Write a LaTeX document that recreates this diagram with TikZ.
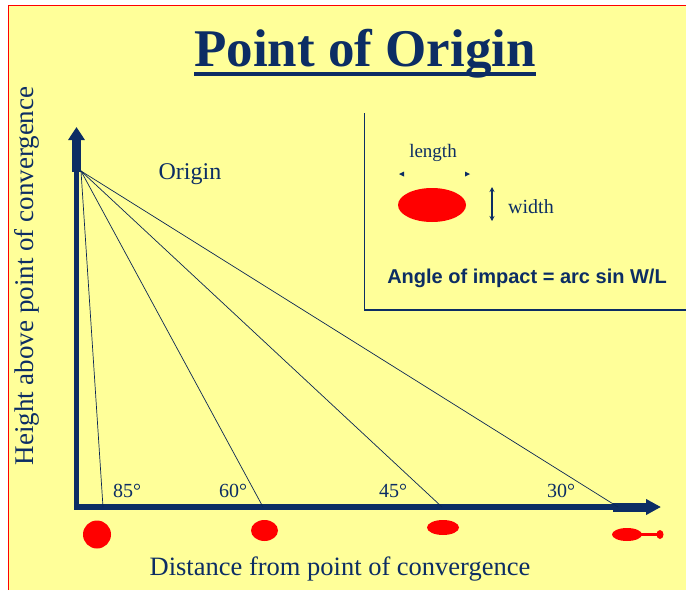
\documentclass[tikz,border=0pt]{standalone}
\usepackage{fontspec}
\setmainfont{Liberation Serif}
\newfontfamily\sansb{Liberation Sans}
\usetikzlibrary{arrows.meta,calc}
\definecolor{bg}{RGB}{255,255,153}
\definecolor{navy}{RGB}{12,45,100}
\definecolor{dropred}{RGB}{255,0,0}
\begin{document}
\begin{tikzpicture}[x=1pt,y=-1pt,
 lbl/.style={text=navy, inner sep=0pt, anchor=base},
 ray/.style={draw=navy!85!black, line width=0.7pt},
 axisline/.style={draw=navy, line width=5.5pt, line join=miter},
 drop/.style={fill=dropred, draw=none}]
\useasboundingbox (0,0) rectangle (686,590);
\fill[white] (0,0) rectangle (686,590);
\fill[bg] (8.5,5.5) rectangle (686,590);
\draw[red, line width=1.2pt] (8.5,590) -- (8.5,5.5) -- (686,5.5);
% title
\node[lbl, font=\fontsize{53}{53}\selectfont\bfseries] (title) at (365,66) {Point of Origin};
\draw[navy, line width=4pt] ($(title.base west)+(0,7.5)$) -- ($(title.base east)+(0,7.5)$);
% axes
\coordinate (ytip) at (76.5,127);
\coordinate (corner) at (76.5,507);
\coordinate (xtip) at (661,507);
\draw[axisline, {Triangle[width=16pt,length=13pt]}-{Triangle[width=15pt,length=15pt]}] (ytip) -- (corner) -- (xtip);
\fill[navy] (72,172) rectangle (81,136);
\fill[navy] (613,503) rectangle (648,511.5);
% rays
\coordinate (O) at (81,171);
\coordinate (a85) at (103,507);
\coordinate (a60) at (263,507);
\coordinate (a45) at (442,507);
\coordinate (a30) at (618,507);
\foreach \p in {a85,a60,a45,a30} \draw[ray] (O) -- (\p);
% angle labels
\node[lbl, font=\fontsize{20}{20}\selectfont] (l85) at (127,497) {85°};
\node[lbl, font=\fontsize{20}{20}\selectfont] (l60) at (233,497) {60°};
\node[lbl, font=\fontsize{20}{20}\selectfont] (l45) at (393,497) {45°};
\node[lbl, font=\fontsize{20}{20}\selectfont] (l30) at (561,497) {30°};
% drops
\fill[drop] (97,534.5) circle [radius=14];
\fill[drop] (264.5,530.5) ellipse [x radius=13.5, y radius=10.5];
\fill[drop] (443,527.5) ellipse [x radius=16, y radius=7.5];
\fill[drop] (627,534.5) ellipse [x radius=15, y radius=6.5];
\fill[drop] (640,533) rectangle (660,536);
\fill[drop] (660,534.5) ellipse [x radius=3.5, y radius=4.5];
% axis labels
\node[lbl, font=\fontsize{26.5}{26.5}\selectfont] (xlab) at (340,575) {Distance from point of convergence};
\node[lbl, rotate=90, font=\fontsize{27}{27}\selectfont] (ylab) at (34,276) {Height above point of convergence};
\node[lbl, font=\fontsize{24}{24}\selectfont] (orig) at (190,179) {Origin};
% info box
\draw[navy, line width=1.3pt] (364.5,113) -- (364.5,310) -- (686,310);
\node[lbl, font=\fontsize{19}{19}\selectfont] (len) at (433,157) {length};
\fill[navy] (399,174) -- (404,171.5) -- (404,176.5) -- cycle;
\fill[navy] (470,174) -- (465,171.5) -- (465,176.5) -- cycle;
\fill[drop] (432,205) ellipse [x radius=34, y radius=17];
\coordinate (wtop) at (492,187);
\coordinate (wbot) at (492,221);
\draw[navy, line width=1.2pt, {Stealth[length=5pt,width=5pt]}-{Stealth[length=5pt,width=5pt]}] (wtop) -- (wbot);
\node[lbl, font=\fontsize{20}{20}\selectfont] (wid) at (531,213) {width};
\node[lbl, font=\sansb\bfseries\fontsize{20}{20}\selectfont] (aoi) at (527,283) {Angle of impact = arc sin W/L};
\end{tikzpicture}
\end{document}
